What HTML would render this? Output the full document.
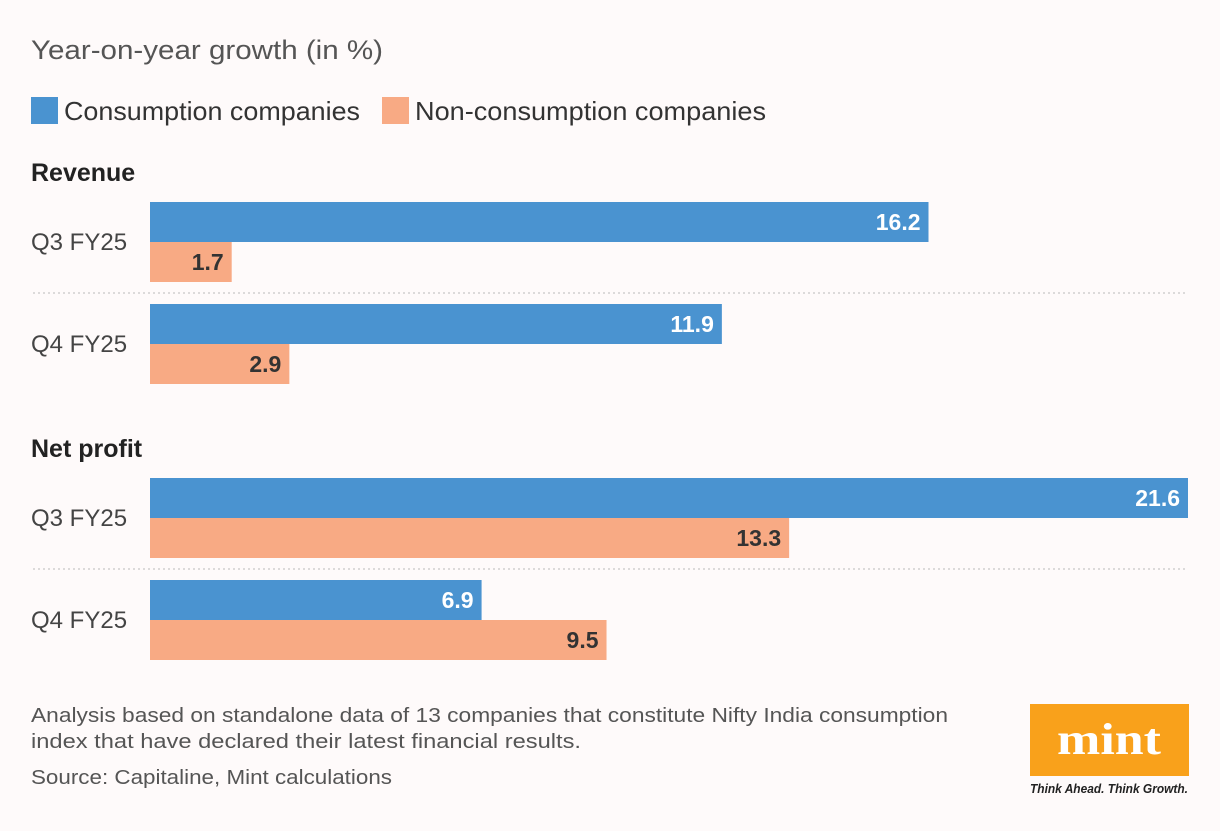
<!DOCTYPE html>
<html><head><meta charset="utf-8"><style>
body{margin:0;background:#fefafa;width:1220px;height:826px;overflow:hidden;font-family:"Liberation Sans",sans-serif;}
</style></head><body>
<svg id="chart" width="1220" height="826" xmlns="http://www.w3.org/2000/svg">
<text x="31" y="59" font-size="27" fill="#555" textLength="352" lengthAdjust="spacingAndGlyphs">Year-on-year growth (in %)</text>
<g>
<rect x="31" y="97" width="27" height="27" fill="#4a93d0"/>
<text x="64" y="120" font-size="26" fill="#333" textLength="296" lengthAdjust="spacingAndGlyphs">Consumption companies</text>
<rect x="382" y="97" width="27" height="27" fill="#f8aa84"/>
<text x="415" y="120" font-size="26" fill="#333" textLength="351" lengthAdjust="spacingAndGlyphs">Non-consumption companies</text>
</g>
<g id="marks"></g>
<text x="31" y="722" font-size="20" fill="#555" textLength="917" lengthAdjust="spacingAndGlyphs">Analysis based on standalone data of 13 companies that constitute Nifty India consumption</text>
<text x="31" y="748" font-size="20" fill="#555" textLength="550" lengthAdjust="spacingAndGlyphs">index that have declared their latest financial results.</text>
<text x="31" y="784" font-size="20" fill="#555" textLength="361" lengthAdjust="spacingAndGlyphs">Source: Capitaline, Mint calculations</text>
<g>
<rect x="1030" y="704" width="159" height="72" fill="#f9a11b"/>
<text x="1109" y="754" font-size="44" font-weight="bold" font-family="Liberation Serif, serif" fill="#fff" text-anchor="middle" textLength="104" lengthAdjust="spacingAndGlyphs">mint</text>
<text x="1109" y="793" font-size="13" font-style="italic" font-weight="bold" fill="#222" text-anchor="middle" textLength="158" lengthAdjust="spacingAndGlyphs">Think Ahead. Think Growth.</text>
</g>
</svg>
<script>
const sections = ["Revenue","Net profit"];
const categories = ["Q3 FY25","Q4 FY25"];
const consumption = [[16.2,11.9],[21.6,6.9]];
const nonConsumption = [[1.7,2.9],[13.3,9.5]];
const x0=150, pxPer=(1188-150)/21.6;
const xs=v=>x0+v*pxPer;
const g=document.getElementById('marks');
const NS='http://www.w3.org/2000/svg';
function mk(tag,attrs,txt){const e=document.createElementNS(NS,tag);for(const k in attrs)e.setAttribute(k,attrs[k]);if(txt!==undefined)e.textContent=txt;g.appendChild(e);return e;}
const secTop=[172,448];
sections.forEach((s,si)=>{
  const h=mk('text',{x:31,y:secTop[si]+9,'font-size':25,'font-weight':'bold',fill:'#222'},s);
  
  
  categories.forEach((c,ci)=>{
    const top=secTop[si]+30+ci*102;
    const l=mk('text',{x:31,y:top+48,'font-size':24,fill:'#444'},c);
    
    
    const vals=[consumption[si][ci],nonConsumption[si][ci]];
    vals.forEach((v,k)=>{
      const b=mk('rect',{x:x0,y:top+k*40,width:xs(v)-x0,height:40,fill:k?'#f8aa84':'#4a93d0'});
      
      
      const t=mk('text',{x:xs(v)-8,y:top+k*40+28,'font-size':23,'font-weight':'bold','text-anchor':'end',fill:k?'#333':'#fff'},v.toFixed(1));
      
      
    });
    if(ci===0){
      const d=mk('line',{x1:33,x2:1188,y1:top+91,y2:top+91,stroke:'#bbb','stroke-dasharray':'2,3'});
      
      
    }
  });
});
</script>
</body></html>
